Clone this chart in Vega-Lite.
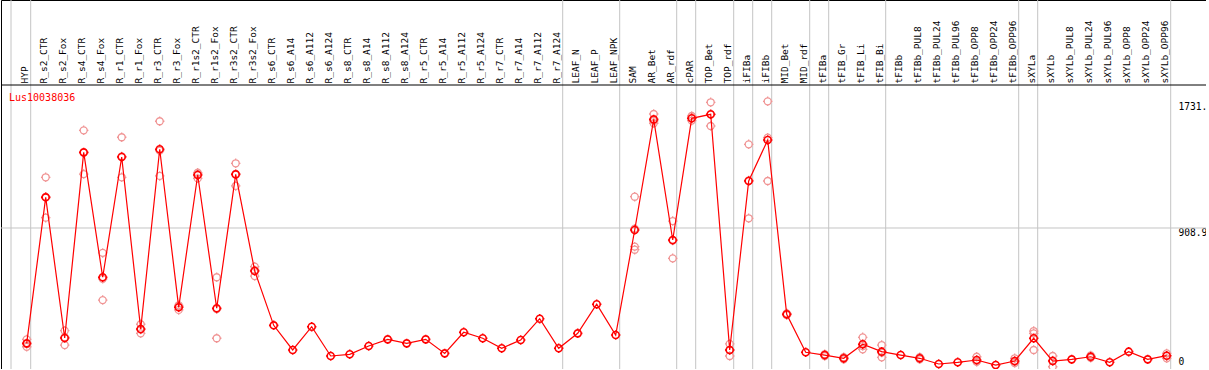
{
  "$schema": "https://vega.github.io/schema/vega-lite/v6.json",
  "width": 1205,
  "height": 369,
  "autosize": {"type": "none"},
  "padding": {"left": 1, "top": 0, "right": 0, "bottom": 0},
  "background": "white",
  "config": {"view": {"stroke": "black", "strokeWidth": 1}},
  "datasets": {
    "means": [
      {"sample": "HYP", "value": 160},
      {"sample": "R_s2_CTR", "value": 1108},
      {"sample": "R_s2_Fox", "value": 195},
      {"sample": "R_s4_CTR", "value": 1400},
      {"sample": "R_s4_Fox", "value": 589},
      {"sample": "R_r1_CTR", "value": 1370},
      {"sample": "R_r1_Fox", "value": 253},
      {"sample": "R_r3_CTR", "value": 1420},
      {"sample": "R_r3_Fox", "value": 394},
      {"sample": "R_r1s2_CTR", "value": 1253},
      {"sample": "R_r1s2_Fox", "value": 388},
      {"sample": "R_r3s2_CTR", "value": 1257},
      {"sample": "R_r3s2_Fox", "value": 630},
      {"sample": "R_s6_CTR", "value": 277},
      {"sample": "R_s6_A14", "value": 117},
      {"sample": "R_s6_A112", "value": 268},
      {"sample": "R_s6_A124", "value": 78},
      {"sample": "R_s8_CTR", "value": 89},
      {"sample": "R_s8_A14", "value": 143},
      {"sample": "R_s8_A112", "value": 186},
      {"sample": "R_s8_A124", "value": 160},
      {"sample": "R_r5_CTR", "value": 186},
      {"sample": "R_r5_A14", "value": 95},
      {"sample": "R_r5_A112", "value": 232},
      {"sample": "R_r5_A124", "value": 193},
      {"sample": "R_r7_CTR", "value": 128},
      {"sample": "R_r7_A14", "value": 182},
      {"sample": "R_r7_A112", "value": 320},
      {"sample": "R_r7_A124", "value": 128},
      {"sample": "LEAF_N", "value": 225},
      {"sample": "LEAF_P", "value": 414},
      {"sample": "LEAF_NPK", "value": 214},
      {"sample": "SAM", "value": 896},
      {"sample": "AR_Bet", "value": 1614},
      {"sample": "AR_rdf", "value": 831},
      {"sample": "cPAR", "value": 1621},
      {"sample": "TOP_Bet", "value": 1647},
      {"sample": "TOP_rdf", "value": 117},
      {"sample": "iFIBa", "value": 1214},
      {"sample": "iFIBb", "value": 1480},
      {"sample": "MID_Bet", "value": 349},
      {"sample": "MID_rdf", "value": 102},
      {"sample": "tFIBa", "value": 84},
      {"sample": "tFIB_Gr", "value": 63},
      {"sample": "tFIB_Li", "value": 154},
      {"sample": "tFIB_Bi", "value": 106},
      {"sample": "tFIBb", "value": 84},
      {"sample": "tFIBb_PUL8", "value": 63},
      {"sample": "tFIBb_PUL24", "value": 26},
      {"sample": "tFIBb_PUL96", "value": 37},
      {"sample": "tFIBb_OPP8", "value": 52},
      {"sample": "tFIBb_OPP24", "value": 19},
      {"sample": "tFIBb_OPP96", "value": 45},
      {"sample": "sXYLa", "value": 193},
      {"sample": "sXYLb", "value": 45},
      {"sample": "sXYLb_PUL8", "value": 56},
      {"sample": "sXYLb_PUL24", "value": 73},
      {"sample": "sXYLb_PUL96", "value": 37},
      {"sample": "sXYLb_OPP8", "value": 106},
      {"sample": "sXYLb_OPP24", "value": 56},
      {"sample": "sXYLb_OPP96", "value": 80}
    ],
    "reps": [
      {"sample": "HYP", "value": 186}, {"sample": "HYP", "value": 156}, {"sample": "HYP", "value": 138},
      {"sample": "R_s2_CTR", "value": 1238}, {"sample": "R_s2_CTR", "value": 1110}, {"sample": "R_s2_CTR", "value": 976},
      {"sample": "R_s2_Fox", "value": 242}, {"sample": "R_s2_Fox", "value": 200}, {"sample": "R_s2_Fox", "value": 149},
      {"sample": "R_s4_CTR", "value": 1543}, {"sample": "R_s4_CTR", "value": 1398}, {"sample": "R_s4_CTR", "value": 1259},
      {"sample": "R_s4_Fox", "value": 747}, {"sample": "R_s4_Fox", "value": 579}, {"sample": "R_s4_Fox", "value": 441},
      {"sample": "R_r1_CTR", "value": 1498}, {"sample": "R_r1_CTR", "value": 1374}, {"sample": "R_r1_CTR", "value": 1238},
      {"sample": "R_r1_Fox", "value": 284}, {"sample": "R_r1_Fox", "value": 250}, {"sample": "R_r1_Fox", "value": 225},
      {"sample": "R_r3_CTR", "value": 1602}, {"sample": "R_r3_CTR", "value": 1411}, {"sample": "R_r3_CTR", "value": 1247},
      {"sample": "R_r3_Fox", "value": 407}, {"sample": "R_r3_Fox", "value": 398}, {"sample": "R_r3_Fox", "value": 377},
      {"sample": "R_r1s2_CTR", "value": 1268}, {"sample": "R_r1s2_CTR", "value": 1260}, {"sample": "R_r1s2_CTR", "value": 1231},
      {"sample": "R_r1s2_Fox", "value": 589}, {"sample": "R_r1s2_Fox", "value": 382}, {"sample": "R_r1s2_Fox", "value": 193},
      {"sample": "R_r3s2_CTR", "value": 1329}, {"sample": "R_r3s2_CTR", "value": 1260}, {"sample": "R_r3s2_CTR", "value": 1182},
      {"sample": "R_r3s2_Fox", "value": 658}, {"sample": "R_r3s2_Fox", "value": 635}, {"sample": "R_r3s2_Fox", "value": 597},
      {"sample": "SAM", "value": 1112}, {"sample": "SAM", "value": 905}, {"sample": "SAM", "value": 788}, {"sample": "SAM", "value": 768},
      {"sample": "AR_Bet", "value": 1649}, {"sample": "AR_Bet", "value": 1605}, {"sample": "AR_Bet", "value": 1589},
      {"sample": "AR_rdf", "value": 954}, {"sample": "AR_rdf", "value": 827}, {"sample": "AR_rdf", "value": 712},
      {"sample": "cPAR", "value": 1636}, {"sample": "cPAR", "value": 1621}, {"sample": "cPAR", "value": 1606},
      {"sample": "TOP_Bet", "value": 1725}, {"sample": "TOP_Bet", "value": 1645}, {"sample": "TOP_Bet", "value": 1571},
      {"sample": "TOP_rdf", "value": 156}, {"sample": "TOP_rdf", "value": 117}, {"sample": "TOP_rdf", "value": 78},
      {"sample": "iFIBa", "value": 1452}, {"sample": "iFIBa", "value": 1218}, {"sample": "iFIBa", "value": 972},
      {"sample": "iFIBb", "value": 1731.2}, {"sample": "iFIBb", "value": 1495}, {"sample": "iFIBb", "value": 1214},
      {"sample": "MID_Bet", "value": 355}, {"sample": "MID_Bet", "value": 349}, {"sample": "MID_Bet", "value": 343},
      {"sample": "tFIBa", "value": 90}, {"sample": "tFIBa", "value": 84}, {"sample": "tFIBa", "value": 78},
      {"sample": "tFIB_Gr", "value": 70}, {"sample": "tFIB_Gr", "value": 63}, {"sample": "tFIB_Gr", "value": 56},
      {"sample": "tFIB_Li", "value": 199}, {"sample": "tFIB_Li", "value": 142}, {"sample": "tFIB_Li", "value": 121},
      {"sample": "tFIB_Bi", "value": 149}, {"sample": "tFIB_Bi", "value": 100}, {"sample": "tFIB_Bi", "value": 69},
      {"sample": "tFIBb_PUL8", "value": 70}, {"sample": "tFIBb_PUL8", "value": 63}, {"sample": "tFIBb_PUL8", "value": 56},
      {"sample": "tFIBb_OPP8", "value": 73}, {"sample": "tFIBb_OPP8", "value": 42}, {"sample": "tFIBb_OPP8", "value": 41},
      {"sample": "tFIBb_OPP96", "value": 63}, {"sample": "tFIBb_OPP96", "value": 40}, {"sample": "tFIBb_OPP96", "value": 32},
      {"sample": "sXYLa", "value": 240}, {"sample": "sXYLa", "value": 225}, {"sample": "sXYLa", "value": 117},
      {"sample": "sXYLb", "value": 78}, {"sample": "sXYLb", "value": 49}, {"sample": "sXYLb", "value": 8},
      {"sample": "sXYLb_PUL24", "value": 82}, {"sample": "sXYLb_PUL24", "value": 73}, {"sample": "sXYLb_PUL24", "value": 66},
      {"sample": "sXYLb_OPP96", "value": 95}, {"sample": "sXYLb_OPP96", "value": 80}, {"sample": "sXYLb_OPP96", "value": 63}
    ],
    "separators": [
      {"sample": "HYP"}, {"sample": "R_r7_A124"}, {"sample": "LEAF_NPK"}, {"sample": "AR_rdf"},
      {"sample": "cPAR"}, {"sample": "TOP_rdf"}, {"sample": "iFIBa"}, {"sample": "iFIBb"},
      {"sample": "MID_rdf"}, {"sample": "tFIBa"}, {"sample": "tFIB_Bi"}, {"sample": "tFIBb_OPP96"},
      {"sample": "sXYLa"}, {"sample": "sXYLb_OPP96"}
    ],
    "first": [{"sample": "HYP"}],
    "grid": [{"value": 908.9}],
    "gene": [{"name": "Lus10038036"}]
  },
  "encoding": {
    "x": {
      "field": "sample",
      "type": "nominal",
      "sort": null,
      "scale": {
        "type": "point",
        "domain": ["HYP","R_s2_CTR","R_s2_Fox","R_s4_CTR","R_s4_Fox","R_r1_CTR","R_r1_Fox","R_r3_CTR","R_r3_Fox","R_r1s2_CTR","R_r1s2_Fox","R_r3s2_CTR","R_r3s2_Fox","R_s6_CTR","R_s6_A14","R_s6_A112","R_s6_A124","R_s8_CTR","R_s8_A14","R_s8_A112","R_s8_A124","R_r5_CTR","R_r5_A14","R_r5_A112","R_r5_A124","R_r7_CTR","R_r7_A14","R_r7_A112","R_r7_A124","LEAF_N","LEAF_P","LEAF_NPK","SAM","AR_Bet","AR_rdf","cPAR","TOP_Bet","TOP_rdf","iFIBa","iFIBb","MID_Bet","MID_rdf","tFIBa","tFIB_Gr","tFIB_Li","tFIB_Bi","tFIBb","tFIBb_PUL8","tFIBb_PUL24","tFIBb_PUL96","tFIBb_OPP8","tFIBb_OPP24","tFIBb_OPP96","sXYLa","sXYLb","sXYLb_PUL8","sXYLb_PUL24","sXYLb_PUL96","sXYLb_OPP8","sXYLb_OPP24","sXYLb_OPP96"],
        "range": [25.7, 1165.7],
        "padding": 0
      },
      "axis": {
        "orient": "top",
        "offset": -85,
        "title": null,
        "ticks": false,
        "tickSize": 0,
        "grid": false,
        "domain": false,
        "labelAngle": 270,
        "labelAlign": "left",
        "labelBaseline": "alphabetic",
        "labelPadding": 2,
        "labelOffset": 0.5,
        "labelOverlap": false,
        "labelFlush": false,
        "labelBound": false,
        "labelColor": "black",
        "labelFont": "DejaVu Sans Mono",
        "labelFontSize": 9.5
      }
    },
    "y": {
      "field": "value",
      "type": "quantitative",
      "scale": {"domain": [-6.49, 2389.1], "nice": false, "zero": false},
      "axis": {
        "orient": "right",
        "offset": -28,
        "title": null,
        "values": [0, 908.9, 1731.2],
        "labelExpr": "datum.value == 0 ? '0' : format(datum.value, '.1f')",
        "ticks": false,
        "domain": false,
        "grid": false,
        "labelAlign": "left",
        "labelBaseline": {"condition": {"test": "datum.value == 0", "value": "bottom"}, "value": "top"},
        "labelOffset": {"condition": {"test": "datum.value == 0", "value": -2}, "value": 0},
        "labelPadding": 0,
        "labelFlush": false,
        "labelOverlap": false,
        "labelBound": false,
        "labelColor": "black",
        "labelFont": "DejaVu Sans Mono",
        "labelFontSize": 9.6
      }
    }
  },
  "layer": [
    {
      "data": {"name": "separators"},
      "mark": {"type": "rule", "color": "#c4c4c4", "strokeWidth": 1, "xOffset": 4},
      "encoding": {"x": {"field": "sample", "type": "nominal"}, "y": null}
    },
    {
      "data": {"name": "first"},
      "mark": {"type": "rule", "color": "#c4c4c4", "strokeWidth": 1, "xOffset": -15.7},
      "encoding": {"x": {"field": "sample", "type": "nominal"}, "y": null}
    },
    {
      "data": {"name": "grid"},
      "mark": {"type": "rule", "color": "#c4c4c4", "strokeWidth": 1},
      "encoding": {"x": null, "y": {"field": "value", "type": "quantitative"}}
    },
    {
      "data": {"name": "gene"},
      "mark": {"type": "rule", "color": "black", "strokeWidth": 1},
      "encoding": {"x": null, "y": {"value": 85}}
    },
    {
      "data": {"name": "reps"},
      "mark": {
        "type": "point",
        "filled": false,
        "shape": "M -1 0 A 1 1 0 1 1 1 0 A 1 1 0 1 1 -1 0 Z M 0 -1 L 0 -1.35 M 0 1 L 0 1.35 M -1 0 L -1.35 0 M 1 0 L 1.35 0",
        "size": 49,
        "stroke": "#f09494",
        "strokeWidth": 1.3,
        "opacity": 1
      }
    },
    {
      "data": {"name": "means"},
      "mark": {"type": "line", "color": "#ff0000", "strokeWidth": 1.2},
      "encoding": {"order": {"value": null}}
    },
    {
      "data": {"name": "means"},
      "mark": {
        "type": "point",
        "filled": false,
        "shape": "M -1 0 A 1 1 0 1 1 1 0 A 1 1 0 1 1 -1 0 Z M 0 -1 L 0 -1.35 M 0 1 L 0 1.35 M -1 0 L -1.35 0 M 1 0 L 1.35 0",
        "size": 49,
        "stroke": "#ff0000",
        "strokeWidth": 1.6,
        "opacity": 1
      }
    },
    {
      "data": {"name": "gene"},
      "mark": {"type": "text", "align": "left", "baseline": "alphabetic", "color": "#ff0000", "font": "DejaVu Sans Mono", "fontSize": 10},
      "encoding": {"x": {"value": 8}, "y": {"value": 101}, "text": {"field": "name", "type": "nominal"}}
    }
  ]
}
